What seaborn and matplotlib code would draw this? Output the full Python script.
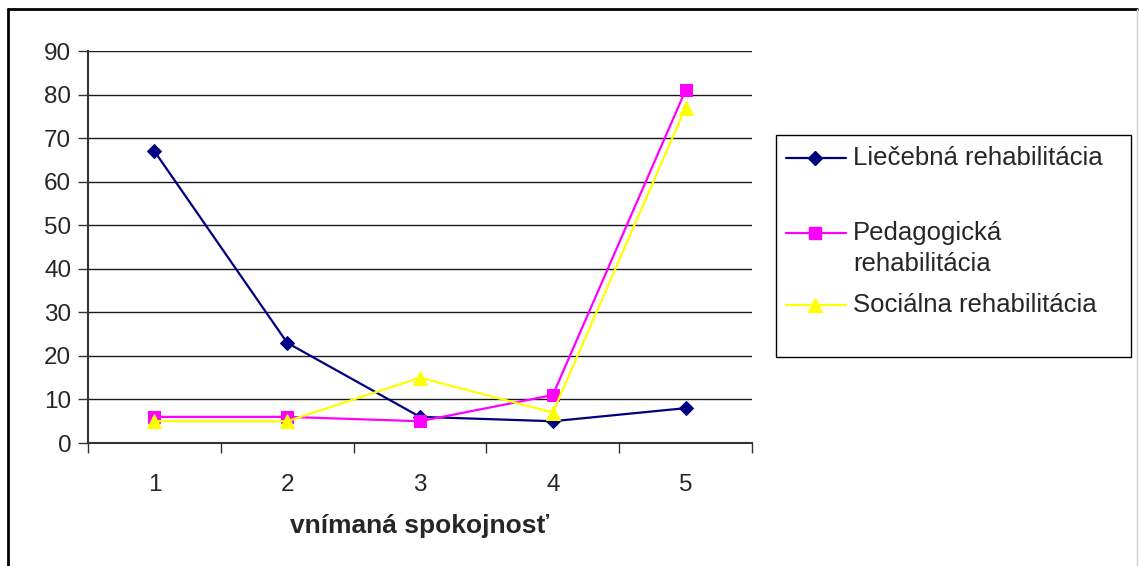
import matplotlib
matplotlib.use("Agg")
import matplotlib.pyplot as plt
import matplotlib.lines as mlines
import matplotlib.patches as mpatches
import seaborn as sns
import pandas as pd
from matplotlib.ticker import FixedLocator

# Survey results: perceived satisfaction (1-5) per rehabilitation type
satisfaction = [1, 2, 3, 4, 5]
liecebna = [67, 23, 6, 5, 8]
pedagogicka = [6, 6, 5, 11, 81]
socialna = [5, 5, 15, 7, 77]
series_names = ["Liečebná rehabilitácia", "Pedagogická\nrehabilitácia", "Sociálna rehabilitácia"]
y_ticks = list(range(0, 91, 10))

sns.set_theme(style="white")
plt.rcParams["font.family"] = ["Liberation Sans", "DejaVu Sans"]

df = pd.DataFrame({
    "x": satisfaction * 3,
    "value": liecebna + pedagogicka + socialna,
    "series": [series_names[0]] * 5 + [series_names[1]] * 5 + [series_names[2]] * 5,
})

W, H = 1139, 566
fig = plt.figure(figsize=(W / 100, H / 100), dpi=100)
ax = fig.add_axes([88 / W, 1 - 443 / H, (752 - 88) / W, (443 - 51) / H])

palette = {series_names[0]: "#000080", series_names[1]: "#FF00FF", series_names[2]: "#FFFF00"}
markers = {series_names[0]: "D", series_names[1]: "s", series_names[2]: "^"}
sizes = {series_names[0]: 7.5, series_names[1]: 8.5, series_names[2]: 10}

for name in series_names:
    sub = df[df["series"] == name]
    sns.lineplot(data=sub, x="x", y="value", ax=ax, color=palette[name],
                 marker=markers[name], markersize=sizes[name], markeredgecolor=palette[name],
                 linewidth=1.6, legend=False, zorder=3)

ax.set_xlim(0.5, 5.5)
ax.set_ylim(0, 90)
ax.set_yticks(y_ticks)
ax.set_yticklabels([str(t) for t in y_ticks], fontsize=17.5)
ax.yaxis.grid(True, color="#1a1a1a", linewidth=1.0)
ax.set_axisbelow(True)

ax.set_xticks(satisfaction)
ax.set_xticklabels([str(s) for s in satisfaction], fontsize=17.5)
ax.xaxis.set_minor_locator(FixedLocator([0.5, 1.5, 2.5, 3.5, 4.5, 5.5]))
ax.tick_params(axis="x", which="major", length=0, pad=22)
ax.tick_params(axis="x", which="minor", length=7, width=1, color="#333333", direction="out", bottom=True)
ax.tick_params(axis="y", length=7, width=1, color="#333333", direction="out", left=True, pad=5)

for side in ("top", "right"):
    ax.spines[side].set_visible(False)
for side in ("left", "bottom"):
    ax.spines[side].set_color("#333333")
    ax.spines[side].set_linewidth(1.5)

ax.set_xlabel("vnímaná spokojnosť", fontsize=19, fontweight="bold", labelpad=13)
ax.set_ylabel("")

# Legend box with one sample line per series
fx = lambda px: px / W
fy = lambda py: 1 - py / H
fig.add_artist(mpatches.Rectangle((fx(776), fy(357)), fx(1131) - fx(776), fy(135) - fy(357),
                                  transform=fig.transFigure, facecolor="white",
                                  edgecolor="#000000", linewidth=1.0))
rows = [158, 233, 305]
for name, row in zip(series_names, rows):
    fig.add_artist(mlines.Line2D([fx(786), fx(846)], [fy(row), fy(row)], transform=fig.transFigure,
                                 color=palette[name], linewidth=1.6))
    fig.add_artist(mlines.Line2D([fx(815)], [fy(row)], transform=fig.transFigure,
                                 color=palette[name], marker=markers[name],
                                 markersize=sizes[name] - 0.5, markeredgecolor=palette[name]))
    for i, line in enumerate(name.split("\n")):
        fig.text(fx(853), fy(row + 31 * i), line, fontsize=18.5, va="center", ha="left")

# Outer chart frame
fig.add_artist(mlines.Line2D([8 / W, 8 / W], [0, 1 - 9 / H], transform=fig.transFigure,
                             color="#000000", linewidth=2))
fig.add_artist(mlines.Line2D([8 / W, 1137 / W], [1 - 9 / H, 1 - 9 / H], transform=fig.transFigure,
                             color="#000000", linewidth=2))
fig.add_artist(mlines.Line2D([1137 / W, 1137 / W], [0, 1 - 9 / H], transform=fig.transFigure,
                             color="#cccccc", linewidth=1))

fig.savefig("out.png", dpi=100)
